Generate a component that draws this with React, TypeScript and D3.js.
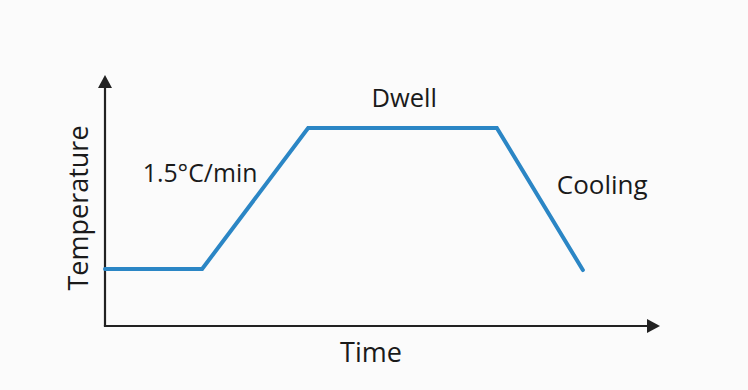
import React from "react";
import * as d3 from "d3";

// Process profile (arbitrary units): time vs temperature
const times = [0, 17.5, 36.6, 70.6, 86.1];
const temps = [22.7, 22.7, 78.9, 78.9, 22.3];

const axisLabels = { x: "Time", y: "Temperature" };
const annotations = [
  { text: "1.5°C/min", t: 6.8, v: 57.4, anchor: "start", size: 24.8 },
  { text: "Dwell", t: 53.9, v: 87.3, anchor: "middle", size: 25.5 },
  { text: "Cooling", t: 81.4, v: 52.6, anchor: "start", size: 26 },
];

const W = 748;
const H = 390;

export default function App() {
  const x = d3.scaleLinear().domain([0, 100]).range([105, 660]);
  const y = d3.scaleLinear().domain([0, 100]).range([326, 75]);

  const pts: [number, number][] = times.map((t, i) => [t, temps[i]]);
  const line = d3
    .line<[number, number]>()
    .x((d) => x(d[0]))
    .y((d) => y(d[1]));

  const x0 = x(0);
  const x1 = x(100);
  const y0 = y(0);
  const y1 = y(100);
  const ah = 13; // arrow head length
  const aw = 7; // arrow half-width

  const font = "'Open Sans', 'Noto Sans', sans-serif";
  const textColor = "#1a1a1a";
  const axisColor = "#222";

  return (
    <svg
      width={W}
      height={H}
      style={{ position: "absolute", left: 0, top: 0, background: "#fbfbfb" }}
    >
      {/* axes */}
      <line x1={x0} y1={y0} x2={x0} y2={y1 + ah} stroke={axisColor} strokeWidth={2.2} />
      <path
        d={`M${x0 - aw},${y1 + ah} L${x0 + aw},${y1 + ah} L${x0},${y1} Z`}
        fill={axisColor}
      />
      <line x1={x0 - 1.1} y1={y0} x2={x1 - ah} y2={y0} stroke={axisColor} strokeWidth={2.2} />
      <path
        d={`M${x1 - ah},${y0 - aw} L${x1 - ah},${y0 + aw} L${x1},${y0} Z`}
        fill={axisColor}
      />

      {/* profile */}
      <path
        d={line(pts) || ""}
        fill="none"
        stroke="#2b86c5"
        strokeWidth={4}
        strokeLinejoin="miter"
        strokeLinecap="round"
      />

      {/* axis labels */}
      <text
        x={371}
        y={362}
        textAnchor="middle"
        fontFamily={font}
        fontSize={27}
        fill={textColor}
      >
        {axisLabels.x}
      </text>
      <text
        transform={`translate(88,208) rotate(-90)`}
        textAnchor="middle"
        fontFamily={font}
        fontSize={27}
        fill={textColor}
      >
        {axisLabels.y}
      </text>

      {/* annotations */}
      {annotations.map((a) => (
        <text
          key={a.text}
          x={x(a.t)}
          y={y(a.v)}
          textAnchor={a.anchor as any}
          fontFamily={font}
          fontSize={a.size}
          fill={textColor}
        >
          {a.text}
        </text>
      ))}
    </svg>
  );
}
